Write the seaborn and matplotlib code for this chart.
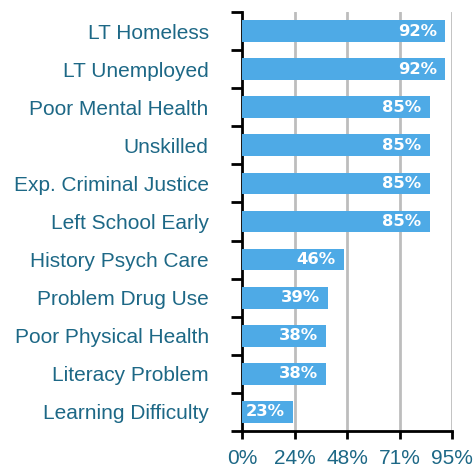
import matplotlib
matplotlib.use("Agg")
import matplotlib.pyplot as plt
import seaborn as sns
import pandas as pd

categories = [
    "LT Homeless", "LT Unemployed", "Poor Mental Health", "Unskilled",
    "Exp. Criminal Justice", "Left School Early", "History Psych Care",
    "Problem Drug Use", "Poor Physical Health", "Literacy Problem",
    "Learning Difficulty",
]
values = [92, 92, 85, 85, 85, 85, 46, 39, 38, 38, 23]
x_ticks = [0, 23.75, 47.5, 71.25, 95]
x_tick_labels = ["0%", "24%", "48%", "71%", "95%"]

df = pd.DataFrame({"category": categories, "value": values})

sns.set_style("white")
plt.rcParams["font.family"] = ["Liberation Sans", "DejaVu Sans"]

label_color = "#1d6886"
bar_color = "#4eaae6"

fig = plt.figure(figsize=(4.75, 4.68), dpi=100)
ax = fig.add_axes([0.5095, 0.0791, 0.4421, 0.8953])

sns.barplot(data=df, x="value", y="category", orient="h", color=bar_color,
            saturation=1, width=0.57, ax=ax, zorder=3, linewidth=0)

n = len(categories)
ax.set_xlim(0, 95)
ax.set_ylim(n - 0.5, -0.5)

# vertical gridlines at the x ticks
for xv in x_ticks[1:]:
    ax.axvline(xv, color="#bdbdbd", lw=2, zorder=1)

# value labels inside the bar ends
for i, v in enumerate(values):
    ax.annotate(f"{v}%", xy=(v, i), xytext=(-6, 0), textcoords="offset points",
                ha="right", va="center", color="white", fontweight="bold",
                fontsize=11.8, family=["DejaVu Sans"], zorder=4)

ax.set_xlabel("")
ax.set_ylabel("")

ax.set_xticks(x_ticks)
ax.set_xticklabels(x_tick_labels)
ax.tick_params(axis="x", which="major", bottom=True, direction="out",
               length=6, width=2, color="black",
               labelsize=15, labelcolor=label_color, pad=7)

# category labels centred, tick marks on band boundaries
ax.set_yticks(range(n))
ax.set_yticklabels(categories)
ax.tick_params(axis="y", which="major", left=False, length=0, labelsize=15,
               labelcolor=label_color, pad=24)
ax.set_yticks([i - 0.5 for i in range(n + 1)], minor=True)
ax.tick_params(axis="y", which="minor", left=True, direction="out",
               length=8, width=2, color="black")

for side in ["top", "right"]:
    ax.spines[side].set_visible(False)
for side in ["left", "bottom"]:
    ax.spines[side].set_linewidth(2)
    ax.spines[side].set_color("black")

fig.savefig("out.png", dpi=100)
